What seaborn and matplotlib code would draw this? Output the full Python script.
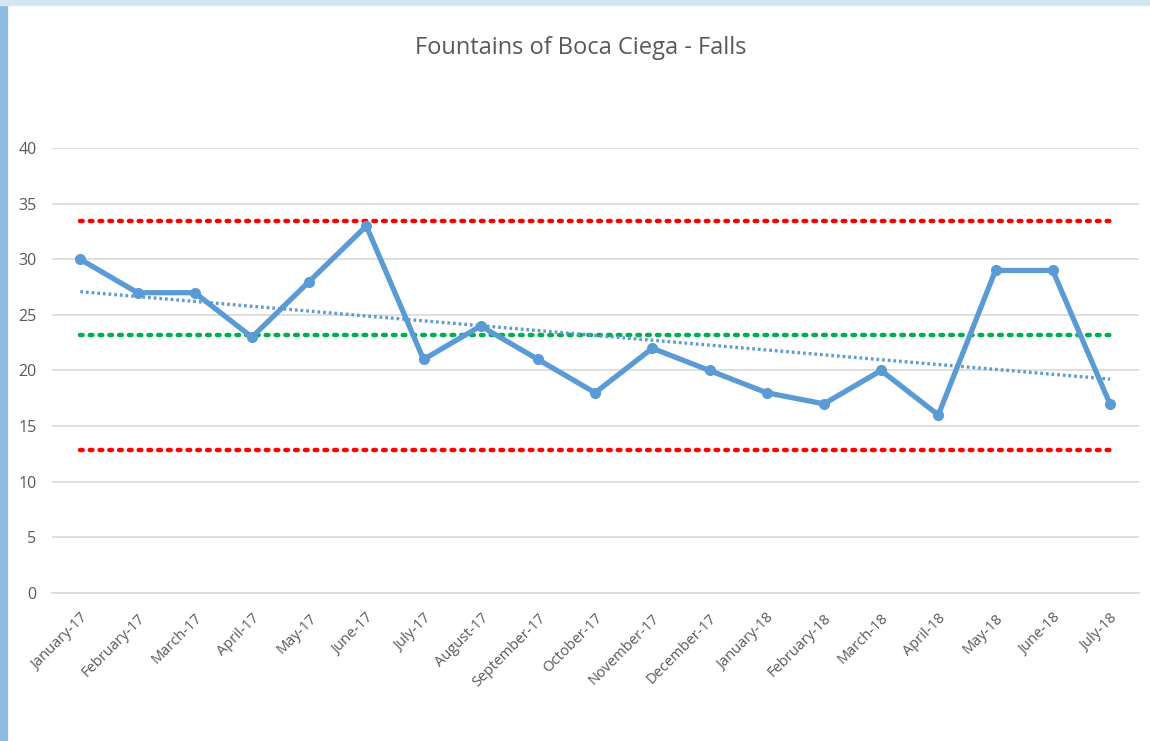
import numpy as np
import pandas as pd
import matplotlib
matplotlib.use("Agg")
import matplotlib.pyplot as plt
from matplotlib.patches import Rectangle
import seaborn as sns

# data
months = ["January-17", "February-17", "March-17", "April-17", "May-17", "June-17",
          "July-17", "August-17", "September-17", "October-17", "November-17",
          "December-17", "January-18", "February-18", "March-18", "April-18",
          "May-18", "June-18", "July-18"]
falls = [30, 27, 27, 23, 28, 33, 21, 24, 21, 18, 22, 20, 18, 17, 20, 16, 29, 29, 17]
upper_limit = 33.45
center_line = 23.16
lower_limit = 12.85

df = pd.DataFrame({"pos": np.arange(len(months)), "month": months, "falls": falls})

sns.set_style("white")
plt.rcParams["font.family"] = ["Open Sans", "DejaVu Sans"]

fig = plt.figure(figsize=(11.5, 7.41), dpi=100)
ax = fig.add_axes([0.045, 0.2, 0.945, 0.6])

# screenshot frame (light blue window edge)
fig.patches.append(Rectangle((0, 0), 0.006, 1, transform=fig.transFigure,
                             color="#8fbce3", zorder=0))
fig.patches.append(Rectangle((0, 0.993), 1, 0.007, transform=fig.transFigure,
                             color="#d3e7f3", zorder=0))

blue = "#5b9bd5"
dot = (0, (0.6, 1.6))

ax.hlines([upper_limit, lower_limit], 0, len(months) - 1, colors="#ff0000",
          linewidth=3.2, linestyles=dot, capstyle="round", zorder=2)
ax.hlines(center_line, 0, len(months) - 1, colors="#00b050",
          linewidth=3.2, linestyles=dot, capstyle="round", zorder=2)

sns.regplot(data=df, x="pos", y="falls", ax=ax, scatter=False, ci=None,
            line_kws={"color": blue, "linewidth": 2.4, "linestyle": (0, (0.8, 0.9))})

sns.lineplot(data=df, x="pos", y="falls", ax=ax, color=blue, linewidth=3.8,
             marker="o", markersize=8, markeredgewidth=0, zorder=4)

ax.set_xlim(-0.5, len(months) - 0.5)
ax.set_ylim(0, 40)
ax.set_yticks(range(0, 41, 5))
ax.yaxis.grid(True, color="#d9d9d9", linewidth=1.2)
ax.set_axisbelow(True)

ax.set_xticks(df["pos"])
ax.set_xticklabels(months, rotation=45, ha="right", rotation_mode="anchor")
ax.set_xticks(np.arange(-0.5, len(months), 1), minor=True)
ax.tick_params(axis="x", which="major", length=0, pad=13, labelsize=10.5, labelcolor="#595959")
ax.tick_params(axis="x", which="minor", length=6, width=1.2, color="#d9d9d9", direction="out")
ax.tick_params(axis="y", length=0, pad=11, labelsize=11.5, labelcolor="#595959")

for side in ["top", "right", "left"]:
    ax.spines[side].set_visible(False)
ax.spines["bottom"].set_color("#d9d9d9")
ax.spines["bottom"].set_linewidth(1.2)

ax.set_xlabel("")
ax.set_ylabel("")
fig.text(0.505, 0.935, "Fountains of Boca Ciega - Falls", ha="center", va="center",
         fontsize=17, color="#595959")

fig.savefig("out.png", dpi=100)
